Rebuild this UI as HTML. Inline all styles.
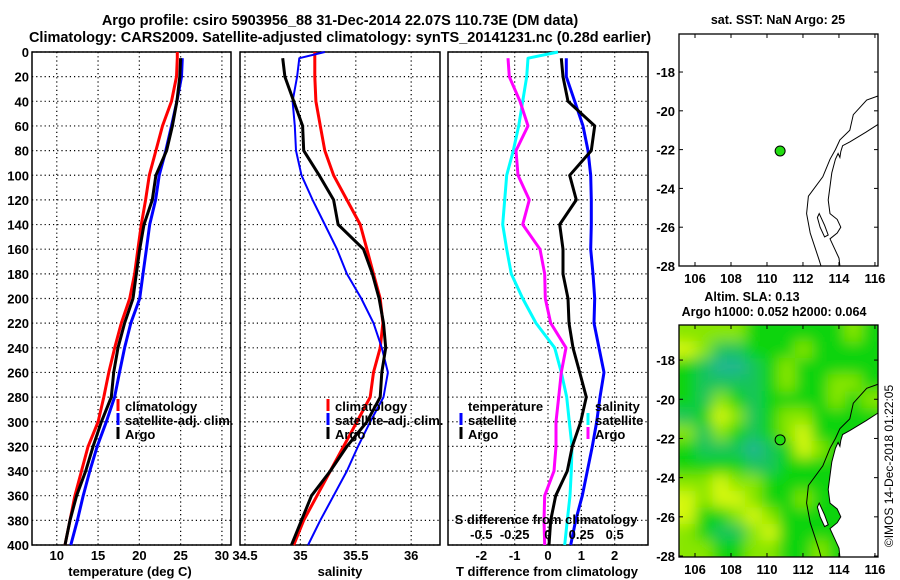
<!DOCTYPE html>
<html><head><meta charset="utf-8">
<style>
html,body{margin:0;padding:0;background:#fff;}
svg{display:block;font-family:"Liberation Sans",Arial,sans-serif;font-weight:bold;}
</style></head>
<body>
<svg id="fig" width="900" height="580" viewBox="0 0 900 580" xmlns="http://www.w3.org/2000/svg">
<text x="340" y="25" text-anchor="middle" font-size="14.5">Argo profile: csiro 5903956_88 31-Dec-2014 22.07S 110.73E (DM data)</text>
<text x="340" y="42" text-anchor="middle" font-size="14.5">Climatology: CARS2009. Satellite-adjusted climatology: synTS_20141231.nc (0.28d earlier)</text>
<text x="778" y="24" text-anchor="middle" font-size="12.5">sat. SST: NaN Argo: 25</text>
<text x="752" y="301" text-anchor="middle" font-size="12.5">Altim. SLA: 0.13</text>
<text x="774" y="316" text-anchor="middle" font-size="12.5">Argo h1000: 0.052 h2000: 0.064</text>
<text transform="translate(893,466) rotate(-90)" text-anchor="middle" font-size="12" font-weight="normal">©IMOS 14-Dec-2018 01:22:05</text>
<defs id="defs">
<filter id="blur" filterUnits="userSpaceOnUse" x="660" y="300" width="240" height="280"><feGaussianBlur stdDeviation="7"/></filter>
</defs>
<g id="layer"></g>
<g id="toplayer"></g>
</svg>
<script>
// ---- data ----
const depths = [0,5,20,40,60,80,100,120,140,160,180,200,220,240,260,280,300,320,340,360,380,400];
const tempClim = [24.6,24.6,24.5,23.9,22.8,22.0,21.2,20.76,20.24,19.83,19.43,18.83,17.82,17.01,16.3,15.7,15.0,13.8,13.0,12.2,11.6,11.0];
const tempSat  = [NaN,25.2,25.1,24.55,23.9,23.2,22.4,21.97,21.25,20.85,20.44,20.04,18.97,18.22,17.6,17.0,16.0,14.9,14.0,13.2,12.5,11.7];
const tempArgo = [NaN,25.0,24.9,24.55,24.0,23.3,22.0,21.57,20.56,20.04,19.63,19.23,18.22,17.41,16.9,16.6,15.4,14.4,13.5,12.4,11.6,11.0];
const salClim = [35.13,35.13,35.13,35.14,35.18,35.22,35.30,35.42,35.54,35.60,35.66,35.72,35.745,35.72,35.66,35.63,35.51,35.39,35.27,35.15,35.03,34.94];
const salSat  = [35.22,34.99,34.97,34.93,34.95,34.96,35.01,35.11,35.22,35.33,35.42,35.55,35.66,35.735,35.79,35.75,35.63,35.52,35.42,35.30,35.18,35.07];
const salArgo = [NaN,34.84,34.86,34.94,35.02,35.03,35.17,35.30,35.34,35.57,35.65,35.71,35.75,35.77,35.735,35.72,35.6,35.42,35.27,35.10,35.01,34.92];
const dTsat  = [NaN,0.55,0.55,0.8,1.05,1.2,1.28,1.3,1.3,1.28,1.35,1.4,1.38,1.53,1.68,1.56,1.46,1.33,1.18,1.03,0.83,0.68];
const dTargo = [NaN,0.4,0.45,0.6,1.4,1.3,0.65,0.85,0.35,0.45,0.45,0.6,0.63,0.75,0.95,1.15,0.98,0.73,0.58,0.23,0.08,0.03];
const dSsat  = [0.075,-0.15,-0.16,-0.19,-0.22,-0.26,-0.31,-0.325,-0.34,-0.31,-0.275,-0.19,-0.09,0.05,0.1,0.14,0.16,0.18,0.175,0.165,0.145,0.125];
const dSargo = [NaN,-0.3,-0.29,-0.21,-0.15,-0.24,-0.225,-0.14,-0.19,-0.06,-0.025,-0.02,0.02,0.135,0.1,0.08,0.06,0.06,0.045,-0.025,-0.03,-0.025];
const depthTicks = [0,20,40,60,80,100,120,140,160,180,200,220,240,260,280,300,320,340,360,380,400];
const tempTicks = [10,15,20,25,30];
const salTicks = [34.5,35,35.5,36];
const dTTicks = [-2,-1,0,1,2];
const dSTicks = [-0.5,-0.25,0,0.25,0.5];
const dSTickLabels = ["-0.5","-0.25","0","0.25","0.5"];
const lonTicks = [106,108,110,112,114,116];
const latTicks = [-18,-20,-22,-24,-26,-28];
const argoLon = 110.73;
const argoLat = -22.07;
// SLA heat map levels (rows north->south, cols west->east), 0=low ... 4=high
const slaGrid = [
[3,3,3,3,2,2,2,2,2,2,3,2],
[4,3,1,1,2,2,2,3,2,2,2,2],
[2,1,0,0,1,2,3,2,2,2,2,2],
[2,1,1,1,1,2,3,2,2,3,3,2],
[2,1,3,2,1,2,2,2,2,3,2,3],
[1,2,4,3,1,2,3,3,2,2,2,2],
[3,1,3,2,1,2,3,4,2,2,2,2],
[2,1,1,1,0,1,2,4,3,2,2,2],
[2,2,2,2,1,1,2,2,2,2,2,2],
[3,3,4,3,3,2,2,2,2,2,2,2],
[4,3,4,4,3,2,2,3,2,2,2,2],
[4,2,2,3,4,3,2,2,2,2,2,2],
[3,2,1,1,3,4,2,2,2,2,2,2],
[3,3,2,2,3,3,2,2,3,2,2,2]];
const slaColors = ["#22b592","#12c45c","#08d40a","#88e600","#d6f80a"];
const shelfLon = [116.15,115.54,114.8,114.6,114.05,113.8,113.5,113.1,112.3,112.2,112.4,112.9,113.0];
const shelfLat = [-19.24,-19.44,-20.2,-21.0,-21.5,-22.0,-22.5,-23.4,-24.4,-25.3,-26.3,-27.7,-28.1];
const coastLon = [116.2,115.5,114.6,114.2,114.1,114.05,113.95,113.8,113.6,113.5,113.4,113.5,113.9,114.1,113.9,113.5,113.7,114.0,114.05];
const coastLat = [-20.7,-21.1,-21.6,-21.8,-22.1,-22.4,-22.2,-22.5,-23.2,-23.9,-24.6,-25.3,-25.6,-26.0,-26.3,-26.6,-27.0,-27.6,-28.1];
const islandLon = [112.8,112.9,113.2,113.4,113.2,112.95,112.8];
const islandLat = [-25.5,-25.3,-25.9,-26.4,-26.5,-26.0,-25.5];

// ---- helpers ----
const NS = "http://www.w3.org/2000/svg";
const layer = document.getElementById('layer');
const toplayer = document.getElementById('toplayer');
const defsEl = document.getElementById('defs');
function mk(tag, parent){ const e=document.createElementNS(NS,tag); (parent||layer).appendChild(e); return e; }
function yDepth(dd){ return 52 + dd*1.2325; }
const P1 = {x0:32,x1:231,lo:7.0,hi:31.1};
const P2 = {x0:240,x1:440,lo:34.455,hi:36.26};
const P3 = {x0:448,x1:648,lo:-3,hi:3};
function xOf(P,v){ return P.x0 + (v-P.lo)/(P.hi-P.lo)*(P.x1-P.x0); }
function xS(v){ return xOf(P3, v*4); }

function panel(P, name, ticks, fmt, xlabel, xlabelX){
  const g = mk('g');
  
  
  depthTicks.forEach(dd=>{
    const l = mk('line', g);
    
    
    l.setAttribute('x1',P.x0); l.setAttribute('x2',P.x1);
    l.setAttribute('y1',yDepth(dd)); l.setAttribute('y2',yDepth(dd));
    l.setAttribute('stroke','#000'); l.setAttribute('stroke-width','1.2'); l.setAttribute('stroke-dasharray','1.2 3');
  });
  ticks.forEach((t,i)=>{
    const x = xOf(P,t);
    const l = mk('line', g);
    
    
    l.setAttribute('x1',x); l.setAttribute('x2',x); l.setAttribute('y1',52); l.setAttribute('y2',545);
    l.setAttribute('stroke','#000'); l.setAttribute('stroke-width','1.2'); l.setAttribute('stroke-dasharray','1.2 3');
    const tx = mk('text', g);
    
    
    tx.setAttribute('x',x); tx.setAttribute('y',560); tx.setAttribute('text-anchor','middle'); tx.setAttribute('font-size','13');
    tx.textContent = fmt(t);
  });
  const r = mk('rect', g);
  
  
  r.setAttribute('x',P.x0); r.setAttribute('y',52); r.setAttribute('width',P.x1-P.x0); r.setAttribute('height',493);
  r.setAttribute('fill','none'); r.setAttribute('stroke','#000'); r.setAttribute('stroke-width','1.5');
  const xl = mk('text', g);
  
  
  xl.setAttribute('x',xlabelX); xl.setAttribute('y',576); xl.setAttribute('text-anchor','middle'); xl.setAttribute('font-size','13');
  xl.textContent = xlabel;
  return g;
}
function series(vals, xf, color, w, name){
  let pts=[];
  vals.forEach((v,i)=>{ if(!isNaN(v)) pts.push(xf(v).toFixed(1)+','+yDepth(depths[i]).toFixed(1)); });
  const pl = mk('polyline');
  
  
  pl.setAttribute('points', pts.join(' '));
  pl.setAttribute('fill','none'); pl.setAttribute('stroke',color); pl.setAttribute('stroke-width',w);
  pl.setAttribute('stroke-linejoin','round');
}
function label(txt,x,y,name,anchor,size){
  const t = mk('text');
  
  
  t.setAttribute('x',x); t.setAttribute('y',y); t.setAttribute('font-size',size||13);
  if(anchor) t.setAttribute('text-anchor',anchor);
  t.textContent = txt;
  return t;
}
function marker(x,y,color,name){
  const l = mk('line');
  
  
  l.setAttribute('x1',x); l.setAttribute('x2',x); l.setAttribute('y1',y-12); l.setAttribute('y2',y);
  l.setAttribute('stroke',color); l.setAttribute('stroke-width','3');
}

// ---- depth labels ----
depthTicks.forEach(dd=>{
  label(String(dd), 29, yDepth(dd)+5, 'y-tick-label', 'end', 13);
});

// ---- panel 1 temperature ----
panel(P1,'temperature-panel',tempTicks,t=>String(t),'temperature (deg C)',130);
series(tempClim, v=>xOf(P1,v), '#f00', 3, 'temp-climatology-line');
series(tempSat, v=>xOf(P1,v), '#00f', 3, 'temp-satellite-line');
series(tempArgo, v=>xOf(P1,v), '#000', 3, 'temp-argo-line');
marker(118,411,'#f00','legend-marker-climatology'); label('climatology',125,411,'legend-climatology');
marker(118,425,'#00f','legend-marker-satellite'); label('satellite-adj. clim.',125,425,'legend-satellite-adj');
marker(118,439,'#000','legend-marker-argo'); label('Argo',125,439,'legend-argo');

// ---- panel 2 salinity ----
panel(P2,'salinity-panel',salTicks,t=>String(t),'salinity',340);
series(salClim, v=>xOf(P2,v), '#f00', 3, 'sal-climatology-line');
series(salSat, v=>xOf(P2,v), '#00f', 2, 'sal-satellite-line');
series(salArgo, v=>xOf(P2,v), '#000', 3, 'sal-argo-line');
marker(328,411,'#f00','legend-marker-climatology'); label('climatology',335,411,'legend-climatology');
marker(328,425,'#00f','legend-marker-satellite'); label('satellite-adj. clim.',335,425,'legend-satellite-adj');
marker(328,439,'#000','legend-marker-argo'); label('Argo',335,439,'legend-argo');

// ---- panel 3 differences ----
panel(P3,'difference-panel',dTTicks,t=>String(t),'T difference from climatology',547);
series(dSsat, xS, '#0ff', 3, 'sal-diff-satellite-line');
series(dSargo, xS, '#f0f', 3, 'sal-diff-argo-line');
series(dTsat, v=>xOf(P3,v), '#00f', 3, 'temp-diff-satellite-line');
series(dTargo, v=>xOf(P3,v), '#000', 3, 'temp-diff-argo-line');
label('temperature',468,411,'legend-temperature-heading');
marker(461,425,'#00f','legend-marker-temp-satellite'); label('satellite',468,425,'legend-temp-satellite');
marker(461,439,'#000','legend-marker-temp-argo'); label('Argo',468,439,'legend-temp-argo');
label('salinity',595,411,'legend-salinity-heading');
marker(588,425,'#0ff','legend-marker-sal-satellite'); label('satellite',595,425,'legend-sal-satellite');
marker(588,439,'#f0f','legend-marker-sal-argo'); label('Argo',595,439,'legend-sal-argo');
label('S difference from climatology',546,524,'s-axis-title','middle');
dSTicks.forEach((t,i)=>{ label(dSTickLabels[i], xS(t), 539, 's-tick-label', 'middle'); });

// ---- maps ----
const M1 = {x0:679,x1:878,y0:34,y1:266,lon0:105.11,lon1:116.17,lat0:-16.04,lat1:-28.0};
const M2 = {x0:679,x1:878,y0:325,y1:557,lon0:105.11,lon1:116.17,lat0:-16.21,lat1:-28.05};
function mx(M,lon){ return M.x0 + (lon-M.lon0)/(M.lon1-M.lon0)*(M.x1-M.x0); }
function my(M,lat){ return M.y0 + (M.lat0-lat)/(M.lat0-M.lat1)*(M.y1-M.y0); }
function cx(M,v){ return Math.min(M.x1, Math.max(M.x0, v)); }
function cy(M,v){ return Math.min(M.y1, Math.max(M.y0, v)); }
function poly(M, lons, lats, name, fill, parent, close){
  const pts = lons.map((l,i)=>cx(M,mx(M,l)).toFixed(1)+','+cy(M,my(M,lats[i])).toFixed(1));
  const p = mk(close?'polygon':'polyline', parent);
  
  
  p.setAttribute('points', pts.join(' '));
  p.setAttribute('fill', fill||'none'); p.setAttribute('stroke','#000'); p.setAttribute('stroke-width','1');
  return p;
}

// ocean clip: map rect minus land east of coast
const coastPts = coastLon.map((lo,i)=>cx(M2,mx(M2,lo)).toFixed(1)+','+cy(M2,my(M2,coastLat[i])).toFixed(1));
const oceanPts = [M2.x0+','+M2.y0, M2.x1+','+M2.y0].concat(coastPts).concat([M2.x0+','+M2.y1]);
const oclip = mk('clipPath', defsEl);
oclip.setAttribute('id','oceanclip');
const oPoly = mk('polygon', oclip);
oPoly.setAttribute('points', oceanPts.join(' '));

// heat map (blurred cells, clipped to ocean)
const heat = mk('g');
heat.setAttribute('clip-path','url(#oceanclip)');


const heatInner = mk('g', heat);
heatInner.setAttribute('filter','url(#blur)');
const nR = slaGrid.length, nC = slaGrid[0].length;
const cw = (M2.x1-M2.x0)/nC, ch = (M2.y1-M2.y0)/nR;
slaGrid.forEach((row,r)=>row.forEach((v,c)=>{
  const rc = mk('rect', heatInner);
  
  
  rc.setAttribute('x', (M2.x0 + c*cw - (c==0?12:0)).toFixed(1));
  rc.setAttribute('y', (M2.y0 + r*ch - (r==0?12:0)).toFixed(1));
  rc.setAttribute('width', (cw+1+(c==0||c==nC-1?12:0)).toFixed(1));
  rc.setAttribute('height', (ch+1+(r==0||r==nR-1?12:0)).toFixed(1));
  rc.setAttribute('fill', slaColors[v]);
}));

const lineG = mk('g', toplayer);


poly(M2, coastLon, coastLat, 'coastline', 'none', lineG);
poly(M2, shelfLon, shelfLat, 'shelf-contour', 'none', lineG);
poly(M2, islandLon, islandLat, 'island', '#ffffff', lineG, true);

[M1,M2].forEach((M,k)=>{
  const g = mk('g', toplayer);
  
  
  if(k==0){
    poly(M, shelfLon, shelfLat, 'shelf-contour', 'none', g);
    poly(M, coastLon, coastLat, 'coastline', 'none', g);
    poly(M, islandLon, islandLat, 'island', 'none', g, true);
  }
  const fr = mk('rect', g);
  
  
  fr.setAttribute('x',M.x0); fr.setAttribute('y',M.y0); fr.setAttribute('width',M.x1-M.x0); fr.setAttribute('height',M.y1-M.y0);
  fr.setAttribute('fill','none'); fr.setAttribute('stroke','#000'); fr.setAttribute('stroke-width','1.3');
  lonTicks.forEach(lo=>{
    const x = mx(M,lo);
    const t = mk('text', g);
    
    
    t.setAttribute('x',x); t.setAttribute('y',M.y1+17); t.setAttribute('text-anchor','middle'); t.setAttribute('font-size','13');
    t.textContent = String(lo);
    [M.y0, M.y1-4].forEach(yy=>{
      const tk = mk('line', g);
      
      
      tk.setAttribute('x1',x); tk.setAttribute('x2',x); tk.setAttribute('y1',yy); tk.setAttribute('y2',yy+4);
      tk.setAttribute('stroke','#000');
    });
  });
  latTicks.forEach(la=>{
    const y = my(M,la);
    const t = mk('text', g);
    
    
    t.setAttribute('x',M.x0-4); t.setAttribute('y',y+5); t.setAttribute('text-anchor','end'); t.setAttribute('font-size','13');
    t.textContent = String(la);
    [M.x0, M.x1-4].forEach(xx=>{
      const tk = mk('line', g);
      
      
      tk.setAttribute('x1',xx); tk.setAttribute('x2',xx+4); tk.setAttribute('y1',y); tk.setAttribute('y2',y);
      tk.setAttribute('stroke','#000');
    });
  });
  const dot = mk('circle', g);
  
  
  dot.setAttribute('cx', mx(M,argoLon)); dot.setAttribute('cy', my(M,argoLat)); dot.setAttribute('r', 5);
  dot.setAttribute('fill', '#22dd11'); dot.setAttribute('stroke','#000'); dot.setAttribute('stroke-width','1');
});
</script>
</body></html>
